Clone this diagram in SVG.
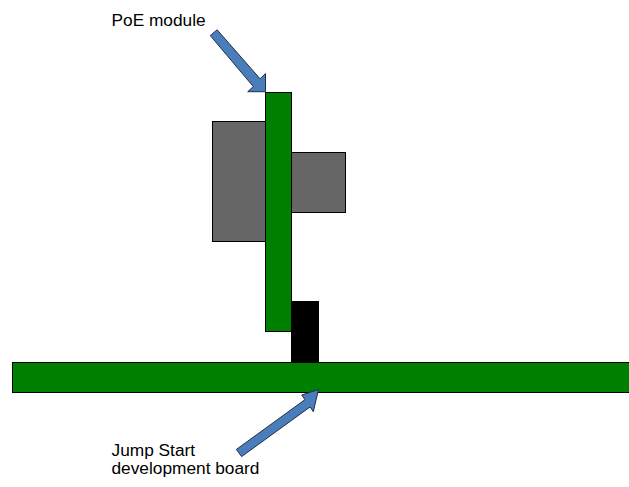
<svg xmlns="http://www.w3.org/2000/svg" width="629" height="487" viewBox="0 0 629 487">
<style>
.pcb{fill:#008000;stroke:#000;stroke-width:1}
.part{fill:#666666;stroke:#000;stroke-width:1}
.conn{fill:#000;stroke:#000;stroke-width:1}
.arrow{fill:#4a7ebb;stroke:#1f2f4a;stroke-width:1;stroke-linejoin:miter}
.lbl{font-family:"Liberation Sans",Arial,sans-serif;font-size:17.3px;fill:#000}
</style>
<rect width="629" height="487" fill="#fff"/>
<g id="poe-module">
<rect class="part" x="212.5" y="121.5" width="53" height="120"/>
<rect class="part" x="291.5" y="152.5" width="54" height="60"/>
<rect class="pcb" x="265.5" y="92.5" width="26" height="239"/>
</g>
<g id="connector">
<rect class="conn" x="291.5" y="301.5" width="27" height="61"/>
</g>
<g id="board">
<rect class="pcb" x="12.5" y="362.5" width="630" height="30"/>
</g>
<g id="connectors">
<polygon class="arrow" points="210.3,35.6 217.1,29.8 260.1,78.8 265.5,73.5 265.5,91.7 247.7,91.7 253.3,86.6"/>
<polygon class="arrow" points="236.4,449.4 241.6,456.6 310.1,406.9 313.3,411.7 318.5,389.5 301.7,395 304.9,399.7"/>
</g>
<g id="labels">
<text class="lbl" x="111.5" y="26">PoE module</text>
<text class="lbl" x="111.5" y="455.5">Jump Start</text>
<text class="lbl" x="111.5" y="474">development board</text>
</g>
</svg>
